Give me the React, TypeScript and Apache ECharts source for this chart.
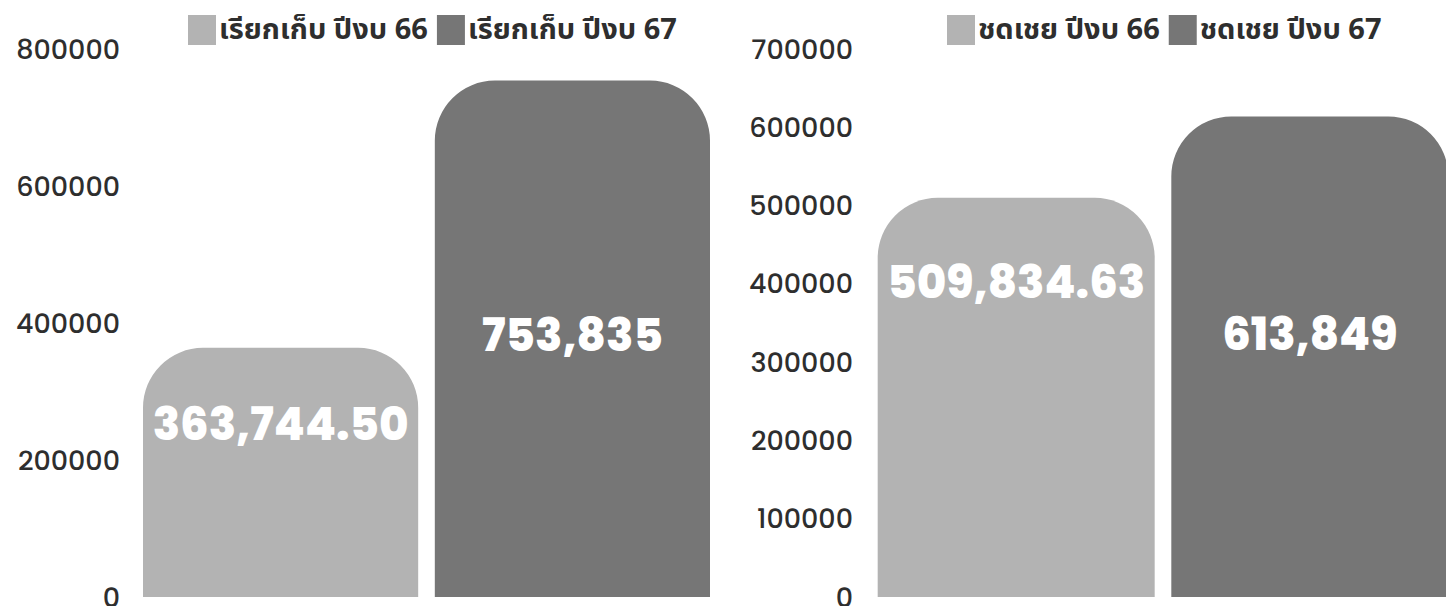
import React, { useEffect, useRef } from "react";
import * as echarts from "echarts";

const billedNames = ["เรียกเก็บ ปีงบ 66", "เรียกเก็บ ปีงบ 67"];
const billedValues = [363744.5, 753835];
const compNames = ["ชดเชย ปีงบ 66", "ชดเชย ปีงบ 67"];
const compValues = [509834.63, 613849];
const leftCategories = ["เรียกเก็บ"];
const rightCategories = ["ชดเชย"];
const colors = ["#b3b3b3", "#767676"];
const labelOffsets = [[0, -48], [0, -3], [0, -115], [0, -22]];

const fmt = (v: number) =>
  v.toLocaleString("en-US", {
    minimumFractionDigits: v % 1 ? 2 : 0,
    maximumFractionDigits: 2,
  });

const numFont = "Poppins, 'Open Sans', Inter, sans-serif";
const thaiFont = "'Noto Sans Thai', 'Noto Sans', 'DejaVu Sans', sans-serif";

export default function App() {
  const ref = useRef<HTMLDivElement>(null);
  useEffect(() => {
    if (!ref.current) return;
    const chart = echarts.init(ref.current, null, { renderer: "svg" });
    const mkSeries = (
      name: string,
      value: number,
      axisIdx: number,
      color: string,
      offset: number[]
    ) => ({
      type: "bar",
      name,
      xAxisIndex: axisIdx,
      yAxisIndex: axisIdx,
      data: [value],
      barWidth: 277,
      barGap: "6%",
      itemStyle: { color, borderRadius: [60, 60, 0, 0] },
      label: {
        show: true,
        position: "inside",
        offset,
        formatter: (p: any) => fmt(p.value),
        color: "#ffffff",
        fontSize: 45,
        fontWeight: 800,
        fontFamily: numFont,
      },
    });
    const yAxisCommon = {
      type: "value",
      min: 0,
      axisLine: { show: false },
      axisTick: { show: false },
      splitLine: { show: false },
      axisLabel: {
        color: "#2e2e2e",
        fontSize: 27,
        fontWeight: 500,
        fontFamily: numFont,
        margin: 23,
        formatter: (v: number) => String(v),
      },
    };
    const xAxisCommon = {
      type: "category",
      show: false,
    };
    const legendText = {
      fontSize: 29,
      fontWeight: "bold",
      color: "#2e2e2e",
      fontFamily: thaiFont,
      padding: [0, 0, 0, -2],
    };
    chart.setOption({
      animation: false,
      legend: [
        {
          data: billedNames,
          left: 183,
          top: 10,
          icon: "rect",
          itemWidth: 28,
          itemHeight: 30,
          itemGap: 9,
          textStyle: legendText,
        },
        {
          data: compNames,
          left: 942,
          top: 10,
          icon: "rect",
          itemWidth: 28,
          itemHeight: 30,
          itemGap: 9,
          textStyle: legendText,
        },
      ],
      grid: [
        { left: 143, width: 567, top: 49, bottom: 17 },
        { left: 876, width: 574, top: 49, bottom: 17 },
      ],
      xAxis: [
        { ...xAxisCommon, gridIndex: 0, data: leftCategories },
        { ...xAxisCommon, gridIndex: 1, data: rightCategories },
      ],
      yAxis: [
        { ...yAxisCommon, gridIndex: 0, max: 800000, interval: 200000 },
        { ...yAxisCommon, gridIndex: 1, max: 700000, interval: 100000 },
      ],
      series: [
        mkSeries(billedNames[0], billedValues[0], 0, colors[0], labelOffsets[0]),
        mkSeries(billedNames[1], billedValues[1], 0, colors[1], labelOffsets[1]),
        mkSeries(compNames[0], compValues[0], 1, colors[0], labelOffsets[2]),
        mkSeries(compNames[1], compValues[1], 1, colors[1], labelOffsets[3]),
      ],
    });
    return () => chart.dispose();
  }, []);
  return <div ref={ref} style={{ width: 1454, height: 614, margin: -8 }} />;
}
